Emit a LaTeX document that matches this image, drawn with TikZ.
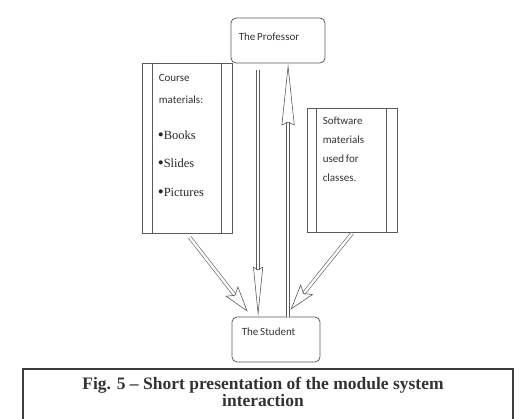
\documentclass[tikz,border=0pt]{standalone}
\usepackage{fontspec}
\setmainfont{Liberation Serif}
\newfontfamily\boxfont{Carlito}
\usepackage{tikz}
\usetikzlibrary{arrows.meta, calc, positioning}
\usepackage{xcolor}
\definecolor{linegray}{HTML}{5A5A5A}
\definecolor{framegray}{HTML}{3C3C3C}

\tikzset{
    roundbox/.style={draw=linegray, line width=0.8pt, rounded corners=5pt, minimum width=#1, minimum height=45pt, inner sep=0pt},
    procbox/.style={draw=linegray, line width=0.8pt, minimum width=90pt, inner sep=0pt},
    boxtext/.style={font=\boxfont\fontsize{11}{20}\selectfont, align=left, inner sep=0pt, anchor=base west, text=black!80},
    bullet/.style={font=\fontsize{12.5}{14}\selectfont, inner sep=0pt, anchor=base west, text=black!85},
    hollow/.style={draw=linegray, line width=0.6pt, double=white, double distance=2.4pt},
}
\newcommand{\dotmark}{{\fontsize{17}{14}\selectfont\raisebox{-0.6pt}{\textbullet}}}

\begin{document}
\begin{tikzpicture}[x=1pt, y=-1pt]
    \useasboundingbox (0,0) rectangle (526,419);

    % 教授与学生
    \node[roundbox=94pt] (prof) at (278, 40.5) {};
    \node[boxtext] (proftxt) at ($(prof.north west)+(8,23)$) {The\,Professor};
    \node[roundbox=88pt] (student) at (276, 339.5) {};
    \node[boxtext] (studtxt) at ($(student.north west)+(10,19)$) {The\,Student};

    % 课程材料
    \node[procbox, minimum height=170pt] (course) at (187, 148) {};
    \draw[linegray, line width=0.8pt] ($(course.north west)+(11,0)$) -- ($(course.south west)+(11,0)$);
    \draw[linegray, line width=0.8pt] ($(course.north east)+(-11,0)$) -- ($(course.south east)+(-11,0)$);
    \node[boxtext] (coursetxt) at ($(course.north west)+(17,19)$) {Course};
    \node[boxtext] (mattxt) at ($(course.north west)+(17,41)$) {materials:};
    \node[bullet] (books) at ($(course.north west)+(16,77)$) {\dotmark Books};
    \node[bullet] (slides) at ($(course.north west)+(16,105)$) {\dotmark Slides};
    \node[bullet] (pictures) at ($(course.north west)+(16,134)$) {\dotmark Pictures};

    % 软件材料
    \node[procbox, minimum height=124pt] (software) at (352, 170) {};
    \draw[linegray, line width=0.8pt] ($(software.north west)+(10,0)$) -- ($(software.south west)+(10,0)$);
    \draw[linegray, line width=0.8pt] ($(software.north east)+(-11,0)$) -- ($(software.south east)+(-11,0)$);
    \node[boxtext, anchor=north west, font=\boxfont\fontsize{11}{19}\selectfont] (softtxt) at ($(software.north west)+(16,9)$)
        {Software\\materials\\used\,for\\classes.};

    % 箭头
    \coordinate (downtop) at ($(prof.south west)!0.29!(prof.south east)+(0,7)$);
    \coordinate (upbot) at ($(student.north west)!0.636!(student.north east)$);
    \draw[hollow, -{Stealth[open, length=50pt, width=10pt, inset=3pt]}] (downtop) -- (downtop |- student.north);
    \draw[hollow, -{Stealth[open, length=62pt, width=13pt, inset=3pt]}] (upbot) -- (upbot |- prof.south);
    \draw[hollow, -{Stealth[open, length=26pt, width=16pt, inset=5pt]}]
        ($(course.south west)!0.53!(course.south east)+(0,4)$) -- ($(student.north west)+(16,-5)$);
    \draw[hollow, -{Stealth[open, length=26pt, width=16pt, inset=5pt]}]
        ($(software.south west)!0.5!(software.south east)+(0,1)$) -- ($(student.north west)+(59,-7)$);

    % 图题
    \draw[framegray, line width=1.4pt] (23,425) -- (23,369) -- (513,369) -- (513,425);
    \node[font=\bfseries\fontsize{17.5}{17}\selectfont, align=center, text=black!80] (caption) at (263, 392)
        {Fig. 5 -- Short presentation of the module system\\interaction};
\end{tikzpicture}
\end{document}
